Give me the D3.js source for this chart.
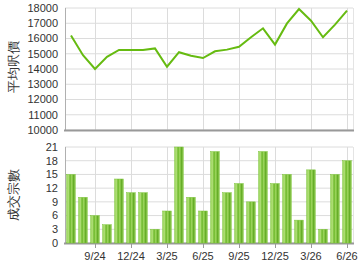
<!DOCTYPE html>
<html>
<head>
<meta charset="utf-8">
<script src="https://cdn.jsdelivr.net/npm/d3@7"></script>
<style>
  body { margin: 0; background: #fff; }
  svg text { font-family: "Liberation Sans", Arial, sans-serif; }
</style>
</head>
<body>
<div id="chart"></div>
<script>
// months shown on x axis (7/24 .. 6/26)
const months = ["7/24","8/24","9/24","10/24","11/24","12/24","1/25","2/25","3/25","4/25","5/25","6/25",
  "7/25","8/25","9/25","10/25","11/25","12/25","1/26","2/26","3/26","4/26","5/26","6/26"];
const tickLabels = ["9/24","12/24","3/25","6/25","9/25","12/25","3/26","6/26"];
// average price per sq ft
const prices = [16200,14900,14000,14800,15250,15250,15250,15350,14150,15100,14870,14720,
  15160,15270,15460,16080,16670,15600,16990,17930,17170,16080,16910,17830];
// number of transactions
const deals = [15,10,6,4,14,11,11,3,7,21,10,7,20,11,13,9,20,13,15,5,16,3,15,18];
const priceTicks = d3.range(10000, 18001, 1000);
const dealTicks = d3.range(0, 22, 3);

const W = 360, H = 270;
const svg = d3.select("#chart").append("svg")
  .attr("width", W).attr("height", H);

const x = d3.scaleBand().domain(months).range([65, 353]).paddingInner(0.28).paddingOuter(0.14);
const xc = d => x(d) + x.bandwidth() / 2;

// gradient for bars
const grad = svg.append("defs").append("linearGradient").attr("id", "bar")
  .attr("x1", "0%").attr("x2", "100%").attr("y1", "0%").attr("y2", "0%");
[["0%","#8fd04c"],["18%","#b6e27e"],["40%","#6cb82a"],["58%","#9ed65e"],["82%","#5ea820"],["100%","#a6da6a"]]
  .forEach(s => grad.append("stop").attr("offset", s[0]).attr("stop-color", s[1]));

function grid(g, y, ticks, top, bottom) {
  g.selectAll(".hg").data(ticks).join("line")
    .attr("x1", 65).attr("x2", 353)
    .attr("y1", d => y(d)).attr("y2", d => y(d))
    .attr("stroke", "#dcdcdc").attr("stroke-width", 1);
  g.selectAll(".vg").data(tickLabels).join("line")
    .attr("x1", d => Math.round(xc(d)) + 0.5).attr("x2", d => Math.round(xc(d)) + 0.5)
    .attr("y1", top).attr("y2", bottom)
    .attr("stroke", "#dcdcdc").attr("stroke-width", 1);
  g.append("line").attr("x1", 65.5).attr("x2", 65.5).attr("y1", top).attr("y2", bottom)
    .attr("stroke", "#b0b0b0");
  g.append("line").attr("x1", 353.5).attr("x2", 353.5).attr("y1", top).attr("y2", bottom)
    .attr("stroke", "#e4e4e4");
  g.append("line").attr("x1", 64).attr("x2", 354).attr("y1", bottom + 0.5).attr("y2", bottom + 0.5)
    .attr("stroke", "#999").attr("stroke-width", 2);
  g.selectAll(".yl").data(ticks).join("text")
    .attr("x", 58).attr("y", d => y(d)).attr("dy", "0.35em")
    .attr("text-anchor", "end").attr("font-size", 11).attr("fill", "#333")
    .text(d => d);
}

// top chart: price line
const y1 = d3.scaleLinear().domain([10000, 18000]).range([130, 8]);
const g1 = svg.append("g");
grid(g1, y1, priceTicks, 8, 130);
g1.append("path").datum(prices)
  .attr("fill", "none").attr("stroke", "#66bb11").attr("stroke-width", 2)
  .attr("d", d3.line().x((d, i) => xc(months[i])).y(d => y1(d)));
g1.append("text").attr("transform", "translate(18,67) rotate(-90)")
  .attr("text-anchor", "middle").attr("font-size", 13).attr("fill", "#333")
  .attr("font-family", "'Noto Sans CJK TC', sans-serif").text("平均呎價");

// bottom chart: transactions bars
const y2 = d3.scaleLinear().domain([0, 21]).range([243, 147]);
const g2 = svg.append("g");
grid(g2, y2, dealTicks, 147, 243);
g2.selectAll(".bar").data(deals).join("rect")
  .attr("x", (d, i) => x(months[i])).attr("width", x.bandwidth())
  .attr("y", d => y2(d)).attr("height", d => y2(0) - y2(d))
  .attr("fill", "url(#bar)").attr("stroke", "#7cc43a").attr("stroke-width", 0.5);
g2.selectAll(".xt").data(tickLabels).join("line")
  .attr("x1", d => Math.round(xc(d)) + 0.5).attr("x2", d => Math.round(xc(d)) + 0.5)
  .attr("y1", 244).attr("y2", 248).attr("stroke", "#999");
g2.selectAll(".xl").data(tickLabels).join("text")
  .attr("x", d => xc(d)).attr("y", 260)
  .attr("text-anchor", "middle").attr("font-size", 11).attr("fill", "#333")
  .text(d => d);
g2.append("text").attr("transform", "translate(18,195) rotate(-90)")
  .attr("text-anchor", "middle").attr("font-size", 13).attr("fill", "#333")
  .attr("font-family", "'Noto Sans CJK TC', sans-serif").text("成交宗數");
</script>
</body>
</html>
